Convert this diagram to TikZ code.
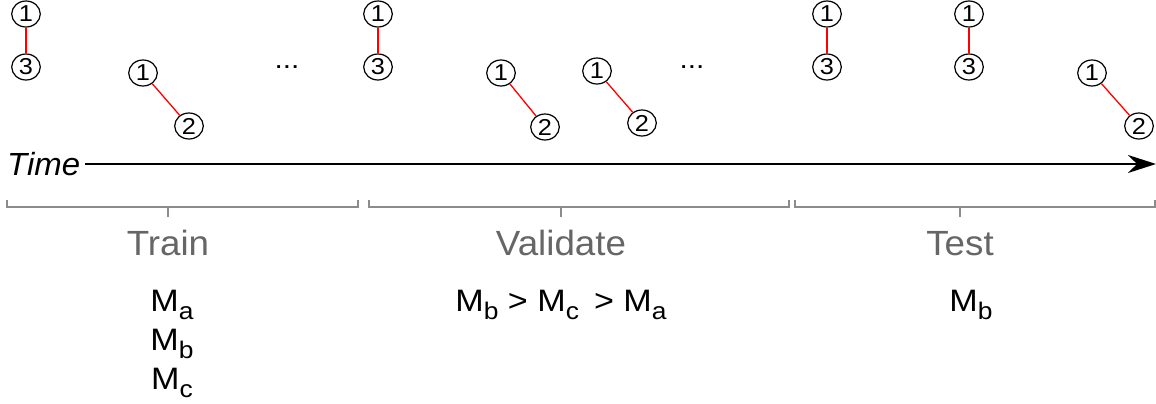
\documentclass[tikz,border=0pt]{standalone}
\usepackage{fontspec}
\setmainfont{Liberation Sans}
\usetikzlibrary{arrows.meta}
\definecolor{brk}{HTML}{8C8C8C}
\definecolor{lbl}{HTML}{666666}
\newcommand{\Msub}[1]{M\raisebox{-0.27em}{\fontsize{24}{24}\selectfont #1}}
\tikzset{
  cn/.style={circle, draw, line width=1.2pt, minimum size=26pt, inner sep=0pt, xscale=1.1, font=\fontsize{23}{23}\selectfont},
  link/.style={red, line width=1.3pt},
  bracket/.style={brk, line width=2pt},
  phase/.style={anchor=base, text=lbl, font=\fontsize{35}{35}\selectfont, inner sep=0pt, xscale=1.05},
  mlab/.style={anchor=base, font=\fontsize{31}{31}\selectfont, inner sep=0pt, xscale=1.1},
  dots/.style={anchor=base, font=\fontsize{27}{27}\selectfont, inner sep=0pt, xscale=1.1}
}
\begin{document}
\begin{tikzpicture}[x=1pt,y=-1pt]
\useasboundingbox (0,0) rectangle (1156,404);
% pairs
\node[cn] (a1) at (26,14) {1};  \node[cn] (a3) at (26,67) {3};
\node[cn] (b1) at (143,73) {1}; \node[cn] (b2) at (189,126) {2};
\node[cn] (c1) at (378,14) {1}; \node[cn] (c3) at (378,67) {3};
\node[cn] (d1) at (501,73) {1}; \node[cn] (d2) at (545,127) {2};
\node[cn] (e1) at (597,71) {1}; \node[cn] (e2) at (642,123) {2};
\node[cn] (f1) at (827,14) {1}; \node[cn] (f3) at (827,67) {3};
\node[cn] (g1) at (969,14) {1}; \node[cn] (g3) at (969,67) {3};
\node[cn] (h1) at (1092,73) {1}; \node[cn] (h2) at (1139,126) {2};
\foreach \p/\q in {a1/a3,b1/b2,c1/c3,d1/d2,e1/e2,f1/f3,g1/g3,h1/h2}
  \draw[link] (\p) -- (\q);
\node[dots] (dotsA) at (287,68) {...};
\node[dots] (dotsB) at (692,68) {...};
% time axis
\node[anchor=base west, inner sep=0pt, xscale=1.03, font=\fontsize{32}{32}\selectfont\itshape] (time) at (7,175) {Time};
\coordinate (tstart) at (85,164);
\coordinate (tend) at (1156,164);
\draw[line width=1.5pt, -{Stealth[length=28pt,width=18pt,inset=9pt]}] (tstart) -- (tend);
% brackets
\draw[bracket] (7,200) -- (7,207) -- (358,207) -- (358,200);
\draw[bracket] (168,207) -- (168,217);
\draw[bracket] (369,200) -- (369,207) -- (789,207) -- (789,200);
\draw[bracket] (561,207) -- (561,217);
\draw[bracket] (795,200) -- (795,207) -- (1155,207) -- (1155,200);
\draw[bracket] (960,207) -- (960,217);
\node[phase] (train) at (168,255) {Train};
\node[phase] (val) at (561,255) {Validate};
\node[phase] (test) at (960,255) {Test};
% models
\node[mlab] (ma) at (172,311) {\Msub{a}};
\node[mlab] (mb) at (172,350) {\Msub{b}};
\node[mlab] (mc) at (172,389) {\Msub{c}};
\node[mlab] (rank) at (561,311) {\Msub{b} > \Msub{c}\, > \Msub{a}};
\node[mlab] (best) at (971,311) {\Msub{b}};
\end{tikzpicture}
\end{document}
